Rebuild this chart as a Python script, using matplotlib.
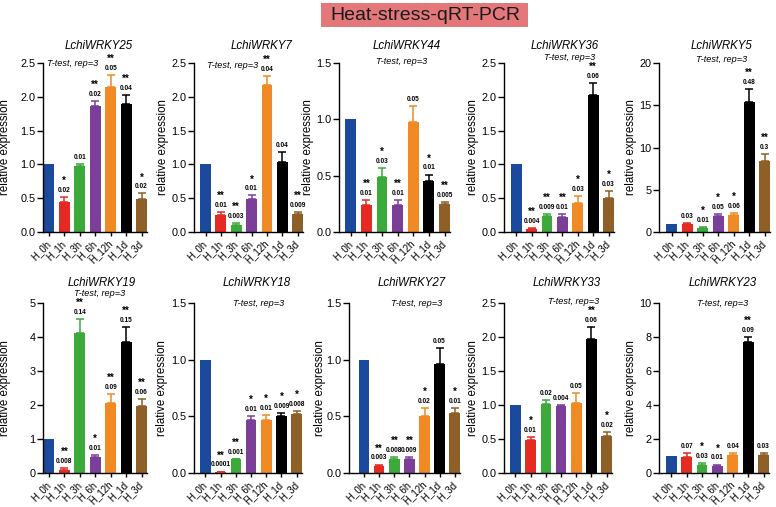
import matplotlib
matplotlib.use("Agg")
import matplotlib.pyplot as plt
from matplotlib.patches import Rectangle

plt.rcParams['font.family'] = ['Liberation Sans', 'DejaVu Sans']

# ---------------- data ----------------
categories = ['H_0h', 'H_1h', 'H_3h', 'H_6h', 'H_12h', 'H_1d', 'H_3d']
bar_colors = ['#1B4A9C', '#E52A24', '#3BAA3A', '#7B3F99', '#F08A25', '#000000', '#8E5F26']

genes = ['LchiWRKY25', 'LchiWRKY7', 'LchiWRKY44', 'LchiWRKY36', 'LchiWRKY5',
         'LchiWRKY19', 'LchiWRKY18', 'LchiWRKY27', 'LchiWRKY33', 'LchiWRKY23']

wrky25_mean = [1.0, 0.45, 0.97, 1.87, 2.15, 1.90, 0.49]
wrky25_err = [0.0, 0.07, 0.03, 0.07, 0.17, 0.13, 0.08]
wrky25_stars = ['', '*', '', '**', '**', '**', '*']
wrky25_p = ['', '0.02', '0.01', '0.02', '0.05', '0.04', '0.02']

wrky7_mean = [1.0, 0.25, 0.11, 0.49, 2.18, 1.04, 0.27]
wrky7_err = [0.0, 0.05, 0.02, 0.05, 0.13, 0.14, 0.03]
wrky7_stars = ['', '**', '**', '*', '**', '', '**']
wrky7_p = ['', '0.01', '0.003', '0.01', '0.04', '0.04', '0.009']

wrky44_mean = [1.0, 0.24, 0.49, 0.24, 0.98, 0.45, 0.25]
wrky44_err = [0.0, 0.04, 0.08, 0.04, 0.14, 0.06, 0.02]
wrky44_stars = ['', '**', '*', '**', '', '*', '**']
wrky44_p = ['', '0.01', '0.03', '0.01', '0.05', '0.01', '0.005']

wrky36_mean = [1.0, 0.05, 0.24, 0.22, 0.43, 2.02, 0.50]
wrky36_err = [0.0, 0.015, 0.03, 0.04, 0.10, 0.19, 0.10]
wrky36_stars = ['', '**', '**', '**', '*', '**', '*']
wrky36_p = ['', '0.004', '0.009', '0.01', '0.03', '0.06', '0.03']

wrky5_mean = [1.0, 0.95, 0.50, 1.90, 2.05, 15.4, 8.35]
wrky5_err = [0.0, 0.15, 0.10, 0.25, 0.25, 1.5, 0.9]
wrky5_stars = ['', '', '*', '*', '*', '**', '**']
wrky5_p = ['', '0.03', '0.01', '0.05', '0.06', '0.48', '0.3']

wrky19_mean = [1.0, 0.10, 4.12, 0.48, 2.05, 3.85, 1.98]
wrky19_err = [0.0, 0.04, 0.42, 0.06, 0.28, 0.45, 0.20]
wrky19_stars = ['', '**', '**', '*', '**', '**', '**']
wrky19_p = ['', '0.008', '0.14', '0.01', '0.09', '0.15', '0.06']

wrky18_mean = [1.0, 0.01, 0.12, 0.47, 0.47, 0.50, 0.52]
wrky18_err = [0.0, 0.003, 0.005, 0.03, 0.04, 0.03, 0.03]
wrky18_stars = ['', '**', '**', '*', '*', '*', '*']
wrky18_p = ['', '0.0001', '0.001', '0.01', '0.01', '0.009', '0.008']

wrky27_mean = [1.0, 0.06, 0.12, 0.12, 0.50, 0.96, 0.53]
wrky27_err = [0.0, 0.015, 0.02, 0.025, 0.07, 0.14, 0.04]
wrky27_stars = ['', '**', '**', '**', '*', '', '*']
wrky27_p = ['', '0.003', '0.008', '0.009', '0.02', '0.05', '0.01']

wrky33_mean = [1.0, 0.48, 1.01, 0.98, 1.03, 1.97, 0.55]
wrky33_err = [0.0, 0.05, 0.07, 0.02, 0.15, 0.18, 0.05]
wrky33_stars = ['', '*', '', '', '', '**', '*']
wrky33_p = ['', '0.01', '0.02', '0.004', '0.05', '0.06', '0.02']

wrky23_mean = [1.0, 0.97, 0.45, 0.42, 1.05, 7.70, 1.08]
wrky23_err = [0.0, 0.22, 0.12, 0.08, 0.12, 0.30, 0.12]
wrky23_stars = ['', '', '*', '*', '', '**', '']
wrky23_p = ['', '0.07', '0.03', '0.01', '0.04', '0.09', '0.03']

y_max = [2.5, 2.5, 1.5, 2.5, 20, 5, 1.5, 1.5, 2.5, 10]
y_step = [0.5, 0.5, 0.5, 0.5, 5, 1, 0.5, 0.5, 0.5, 2]
y_fmt = ['{:.1f}', '{:.1f}', '{:.1f}', '{:.1f}', '{:.0f}', '{:.0f}', '{:.1f}', '{:.1f}', '{:.1f}', '{:.0f}']

panels = [
    (wrky25_mean, wrky25_err, wrky25_stars, wrky25_p),
    (wrky7_mean, wrky7_err, wrky7_stars, wrky7_p),
    (wrky44_mean, wrky44_err, wrky44_stars, wrky44_p),
    (wrky36_mean, wrky36_err, wrky36_stars, wrky36_p),
    (wrky5_mean, wrky5_err, wrky5_stars, wrky5_p),
    (wrky19_mean, wrky19_err, wrky19_stars, wrky19_p),
    (wrky18_mean, wrky18_err, wrky18_stars, wrky18_p),
    (wrky27_mean, wrky27_err, wrky27_stars, wrky27_p),
    (wrky33_mean, wrky33_err, wrky33_stars, wrky33_p),
    (wrky23_mean, wrky23_err, wrky23_stars, wrky23_p),
]

# ---------------- layout (pixels) ----------------
W, H = 776, 507
ax_left = [43, 194, 339, 504, 659, 43, 194, 349, 504, 659]
ax_right = [147, 303, 450, 614, 770, 147, 302, 460, 612, 769]
ax_top = [63] * 5 + [303] * 5
ax_bot = [232] * 5 + [473] * 5
x_lo = [-0.38, -0.75, -0.75, -0.8, -0.83, -0.38, -0.75, -1.0, -0.75, -0.8]
title_x = [99, 262, 407, 565, 722, 102, 257, 412, 567, 723]
title_y = [46] * 5 + [283] * 5
ttest_xy = [(73, 63), (233, 66), (402, 61), (570, 57), (722, 60),
            (100, 294), (259, 303), (417, 303), (574, 302), (723, 303)]
ylab_x = [5, 163, 308, 473, 631, 5, 162, 320, 473, 631]


def fx(px):
    return px / W


def fy(py):
    return 1 - py / H


fig = plt.figure(figsize=(W / 100, H / 100), dpi=100)

# header box
fig.patches.append(Rectangle((fx(321), fy(27)), fx(528) - fx(321), (27 - 3) / H,
                             transform=fig.transFigure, facecolor='#E3777A',
                             edgecolor='none', zorder=0))
fig.text(fx(425), fy(15), 'Heat-stress-qRT-PCR', ha='center', va='center',
         fontsize=14, color='#1a1a1a')

for k, (mean, err, stars, pv) in enumerate(panels):
    l, r, t, b = ax_left[k], ax_right[k], ax_top[k], ax_bot[k]
    ax = fig.add_axes([fx(l), fy(b), (r - l) / W, (b - t) / H])
    x = list(range(len(categories)))
    ax.bar(x, mean, width=0.7, color=bar_colors, zorder=2)
    for i in x:
        if err[i] > 0:
            ax.errorbar(i, mean[i], yerr=[[0], [err[i]]], fmt='none',
                        ecolor=bar_colors[i], elinewidth=1.1, capsize=2.6,
                        capthick=1.1, zorder=3)
        top = mean[i] + err[i]
        if pv[i]:
            ax.annotate(pv[i], (i, top), xytext=(0, 2.2), textcoords='offset points',
                        ha='center', va='bottom', fontsize=4.7, fontweight='bold')
        if stars[i]:
            ax.annotate(stars[i], (i, top), xytext=(0, 8.0), textcoords='offset points',
                        ha='center', va='bottom', fontsize=7, fontweight='bold')
    ax.set_xlim(x_lo[k], 6.35)
    ax.set_ylim(0, y_max[k])
    ticks = []
    v = 0.0
    while v <= y_max[k] + 1e-9:
        ticks.append(v)
        v += y_step[k]
    ax.set_yticks(ticks)
    ax.set_yticklabels([y_fmt[k].format(tv) for tv in ticks], fontsize=7.8)
    ax.set_xticks(x)
    ax.set_xticklabels(categories, rotation=45, ha='right', va='center',
                       rotation_mode='anchor', fontsize=7)
    for s in ['top', 'right']:
        ax.spines[s].set_visible(False)
    for s in ['left', 'bottom']:
        ax.spines[s].set_linewidth(1.0)
    ax.tick_params(axis='y', length=4, width=1.0, pad=1.5)
    ax.tick_params(axis='x', length=3, width=1.0, pad=4)
    ax.patch.set_visible(False)

    fig.text(fx(title_x[k]), fy(title_y[k]), genes[k], ha='center', va='center',
             fontsize=8.3, style='italic')
    tx, ty = ttest_xy[k]
    fig.text(fx(tx), fy(ty), 'T-test, rep=3', ha='center', va='center',
             fontsize=6.6, style='italic')
    fig.text(fx(ylab_x[k]), fy((t + b) / 2), 'relative expression', rotation=90,
             ha='center', va='center', fontsize=8.3)

fig.savefig('out.png', dpi=100)
